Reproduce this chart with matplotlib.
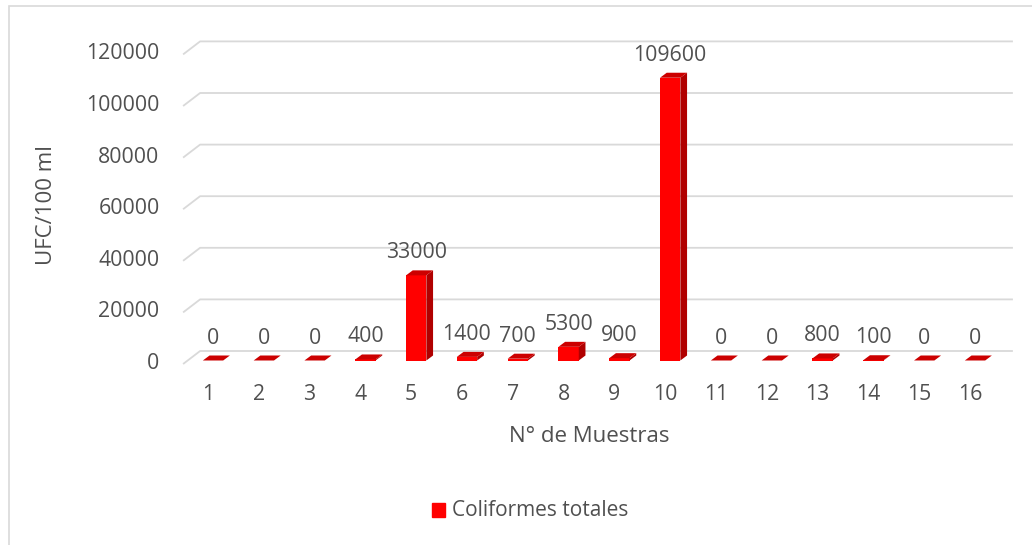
import numpy as np
import matplotlib.pyplot as plt
from matplotlib.patches import Polygon, Rectangle
from matplotlib.transforms import ScaledTranslation

# Data
muestras = [str(i) for i in range(1, 17)]
coliformes = [0, 0, 0, 400, 33000, 1400, 700, 5300, 900, 109600, 0, 0, 800, 100, 0, 0]
y_ticks = [0, 20000, 40000, 60000, 80000, 100000, 120000]

TEXT = '#505050'
GRID = '#d9d9d9'
plt.rcParams['font.family'] = ['Open Sans', 'DejaVu Sans']

W, H, DPI = 1032, 545, 100
fig = plt.figure(figsize=(W / DPI, H / DPI), dpi=DPI)

# frame of the chart area (only left and top visible in the crop)
fig.patches.append(Rectangle((8.5 / W, -0.1), 1.2, 1.1 - 6 / H, transform=fig.transFigure,
                             fill=False, edgecolor=GRID, lw=1.2))

ax = fig.add_axes([187.6 / W, (H - 360.5) / H, 812.8 / W, 309.6 / H])
ax.set_xlim(0.5, 16.5)
ax.set_ylim(0, 120000)
ax.axis('off')


def shift(px_x, px_y):
    return ScaledTranslation(px_x / DPI, px_y / DPI, fig.dpi_scale_trans)


# back wall gridlines with the little floor diagonal on the left
wall = ax.transData + shift(12.5, 9.5)
front = ax.transData + shift(-4.5, -3.5)
for v in y_ticks:
    x0, y0 = front.transform((0.5, v))
    x1, y1 = wall.transform((0.5, v))
    x2, _ = wall.transform((16.5, v))
    ax.plot([x0, x1, x2], [y0, y1, y1], transform=None, color=GRID, lw=1.3,
            solid_capstyle='butt', zorder=0, clip_on=False)
    ax.text(0, v, str(v), transform=ax.get_yaxis_transform() + shift(-28, -3),
            ha='right', va='center', fontsize=15.3, color=TEXT)

# 3D-looking bars
x = np.arange(1, 17)
bw = 0.4
dx, dy = 6.7, 5.0
ax.bar(x, coliformes, width=bw, color='#ff0000', zorder=3)
for xi, v in zip(x, coliformes):
    l, b = ax.transData.transform((xi - bw / 2, 0))
    r, t = ax.transData.transform((xi + bw / 2, v))
    side = Polygon([(r, b), (r + dx, b + dy), (r + dx, t + dy), (r, t)], closed=True,
                   transform=None, facecolor='#b00000', edgecolor='none', zorder=3)
    top = Polygon([(l, t), (l + dx, t + dy), (r + dx, t + dy), (r, t)], closed=True,
                  transform=None, facecolor='#cc0000', edgecolor='none', zorder=3)
    fig.add_artist(side)
    fig.add_artist(top)
    ax.annotate(str(v), (xi, v), xytext=(0, 22.5 * 0.72), textcoords='offset points',
                ha='center', va='center', fontsize=15.3, color=TEXT)
    ax.text(xi, 0, muestras[xi - 1], transform=ax.transData + shift(-5, -34.5),
            ha='center', va='center', fontsize=15.3, color=TEXT)

fig.text(589 / W, 1 - 436 / H, 'N° de Muestras', ha='center', va='center',
         fontsize=16, color=TEXT)
fig.text(47 / W, 1 - 205 / H, 'UFC/100 ml', ha='center', va='center', rotation=90,
         fontsize=16, color=TEXT)

# legend
fig.patches.append(Rectangle((431.5 / W, 1 - 516.5 / H), 13.5 / W, 13.5 / H,
                             transform=fig.transFigure, color='#ff0000'))
fig.text(452 / W, 1 - 510 / H, 'Coliformes totales', ha='left', va='center',
         fontsize=15, color=TEXT)

fig.savefig('out.png', dpi=DPI)
